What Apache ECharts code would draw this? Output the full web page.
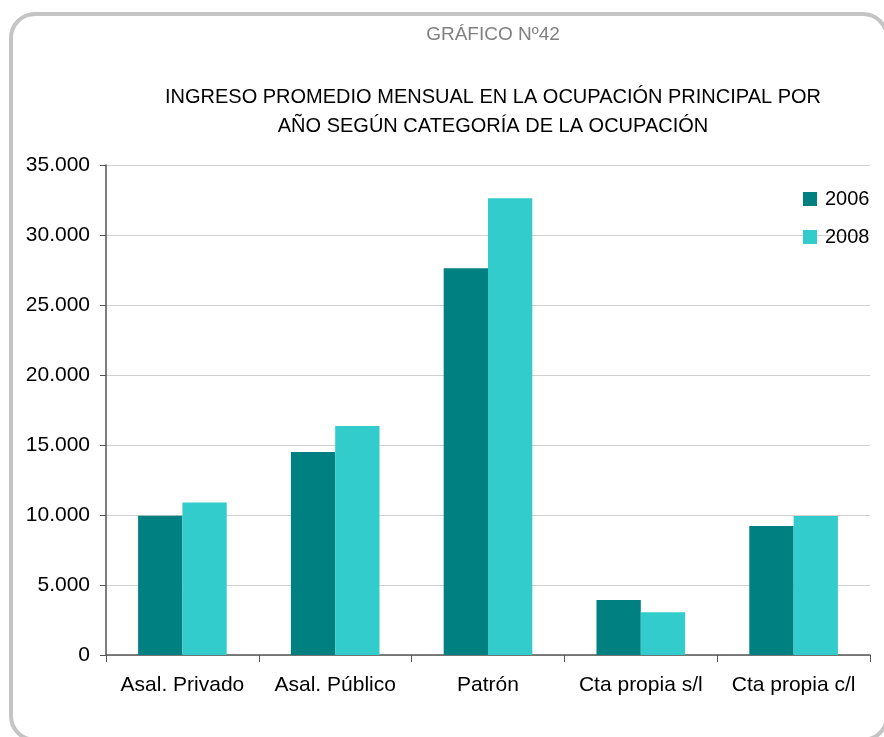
<!DOCTYPE html>
<html><head><meta charset="utf-8">
<script src="https://cdn.jsdelivr.net/npm/echarts@6/dist/echarts.min.js"></script>
<style>
html,body{margin:0;padding:0;background:#fff;}
#frame{position:absolute;left:9px;top:12px;width:880px;height:730px;border:4px solid #c4c4c4;border-radius:26px;box-sizing:border-box;}
#c{position:absolute;left:0;top:0;width:884px;height:737px;}
</style></head>
<body>
<div id="frame"></div>
<div id="c"></div>
<script>
var categories = ['Asal. Privado', 'Asal. Público', 'Patrón', 'Cta propia s/l', 'Cta propia c/l'];
var seriesNames = ['2006', '2008'];
var values2006 = [9950, 14500, 27620, 3930, 9210];
var values2008 = [10900, 16350, 32620, 3050, 9930];
var yTicks = [0, 5000, 10000, 15000, 20000, 25000, 30000, 35000];

var font = 'Liberation Sans, Arial, sans-serif';
var chart = echarts.init(document.getElementById('c'));
function fmt(v){ return String(v).replace(/\B(?=(\d{3})+(?!\d))/g, '.'); }
chart.setOption({
  animation: false,
  title: [
    {text: 'GRÁFICO Nº42', left: 493, top: 25, textAlign: 'center', padding: 0,
     textStyle: {fontFamily: font, fontSize: 19, fontWeight: 'normal', color: '#808080'}},
    {text: 'INGRESO PROMEDIO MENSUAL EN LA OCUPACIÓN PRINCIPAL POR\nAÑO SEGÚN CATEGORÍA DE LA OCUPACIÓN', left: 493, top: 83, textAlign: 'center', padding: 0,
     textStyle: {fontFamily: font, fontSize: 20, fontWeight: 'normal', color: '#000', lineHeight: 29}}
  ],
  legend: {
    orient: 'vertical', left: 803, top: 189, padding: 0, icon: 'rect', itemWidth: 14, itemHeight: 14, itemGap: 18,
    textStyle: {fontFamily: font, fontSize: 20, color: '#000', padding: [0, 0, 0, 3]},
    data: seriesNames
  },
  grid: {left: 106, right: 14, top: 165, bottom: 82},
  xAxis: {
    type: 'category', data: categories,
    axisLine: {lineStyle: {color: '#555', width: 1.5}},
    axisTick: {show: true, interval: 0, length: 7, lineStyle: {color: '#555'}},
    axisLabel: {interval: 0, hideOverlap: false, fontFamily: font, fontSize: 21, color: '#000', margin: 20}
  },
  yAxis: {
    type: 'value', min: yTicks[0], max: yTicks[yTicks.length-1], interval: 5000,
    axisLine: {show: true, lineStyle: {color: '#555', width: 1.5}},
    axisTick: {show: true, length: 6, lineStyle: {color: '#555'}},
    axisLabel: {fontFamily: font, fontSize: 21, color: '#000', margin: 16, formatter: fmt},
    splitLine: {lineStyle: {color: '#d0d0d0', width: 1}}
  },
  series: [
    {name: seriesNames[0], type: 'bar', data: values2006, barGap: '0%', barCategoryGap: '42%',
     itemStyle: {color: '#008080'}},
    {name: seriesNames[1], type: 'bar', data: values2008, barGap: '0%', barCategoryGap: '42%',
     itemStyle: {color: '#33CCCC'}}
  ]
});
</script>
</body></html>
